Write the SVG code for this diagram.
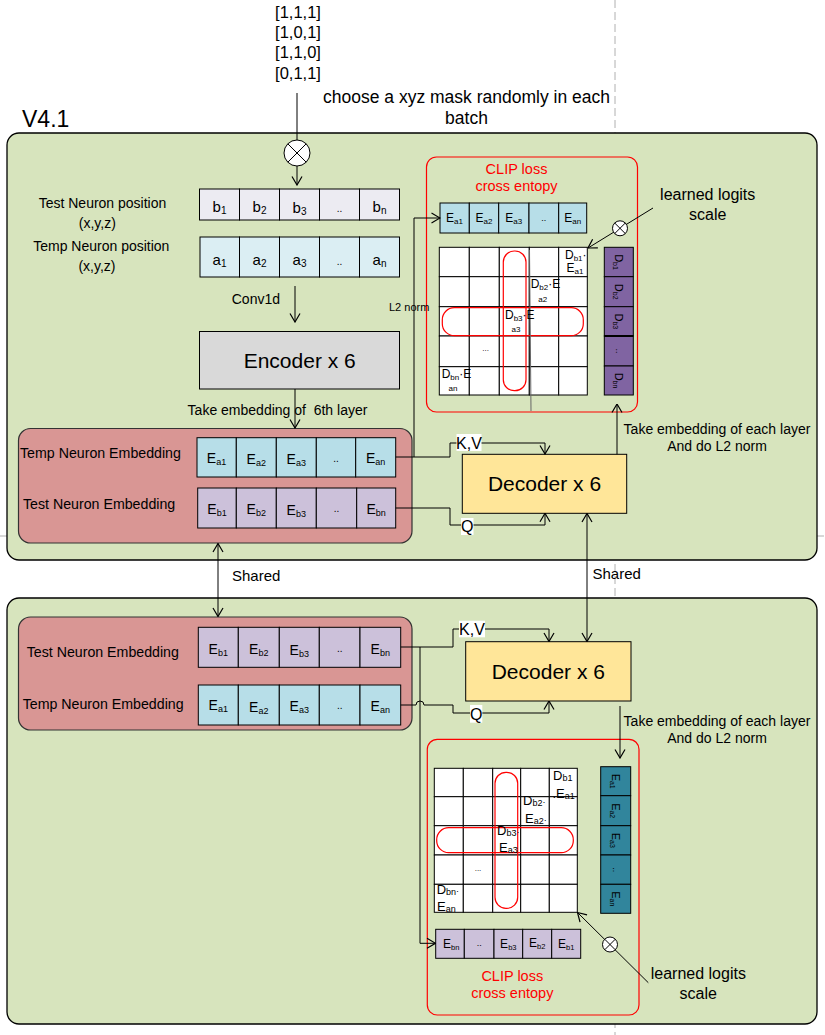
<svg xmlns="http://www.w3.org/2000/svg" width="825" height="1035" viewBox="0 0 825 1035">
<style>
text{font-family:"Liberation Sans",Arial,sans-serif;fill:#000}
.c{text-anchor:middle}
.panel{fill:#d7e4bd;stroke:#000;stroke-width:1.3}
.emb{fill:#d99694;stroke:#333;stroke-width:1.2}
.cell{stroke:#000;stroke-width:1}
.ea{fill:#b7dee8}
.eb{fill:#ccc1da}
.pa{fill:#dbeef3}
.pb{fill:#ecebf2}
.dp{fill:#8064a2}
.tl{fill:#31859c}
.wc{fill:#fff}
.red{fill:none;stroke:#f00;stroke-width:1.2}
.ln{fill:none;stroke:#000;stroke-width:1}
.ar{marker-end:url(#ah)}
.ar2{marker-start:url(#ah);marker-end:url(#ah)}
.rt{fill:#f00}
.dash{stroke:#b0b0b0;stroke-width:1;stroke-dasharray:8 4}
</style>
<defs>
<marker id="ah" viewBox="0 0 10 12" refX="9.5" refY="6" markerWidth="10" markerHeight="12" markerUnits="userSpaceOnUse" orient="auto-start-reverse">
<path d="M1,1 L9.5,6 L1,11" fill="none" stroke="#000" stroke-width="1.2"/>
</marker>
</defs>

<g id="guides">
<line class="dash" x1="615" y1="0" x2="615" y2="1035"/>
<line class="dash" x1="0" y1="536" x2="825" y2="536"/>
</g>

<g id="panel-top"><rect class="panel" x="7" y="133" width="810" height="427" rx="12"/></g>
<g id="panel-bottom"><rect class="panel" x="7" y="598" width="810" height="426" rx="12"/></g>

<g id="title"><text x="22" y="127" font-size="23">V4.1</text></g>

<g id="mask-list">
<text class="c" x="298" y="18" font-size="16.5">[1,1,1]</text>
<text class="c" x="298" y="38" font-size="16.5">[1,0,1]</text>
<text class="c" x="298" y="58" font-size="16.5">[1,1,0]</text>
<text class="c" x="298" y="79" font-size="16.5">[0,1,1]</text>
</g>
<g id="mask-note">
<text class="c" x="466.5" y="103" font-size="17.5">choose a xyz mask randomly in each</text>
<text class="c" x="466.5" y="124" font-size="17.5">batch</text>
</g>

<g id="mask-mult">
<circle cx="297" cy="153" r="13" fill="#fff" stroke="#000" stroke-width="1"/>
<line class="ln" x1="287.8" y1="143.8" x2="306.2" y2="162.2"/>
<line class="ln" x1="306.2" y1="143.8" x2="287.8" y2="162.2"/>
</g>

<g id="pos-labels">
<text class="c" x="102.5" y="207.5" font-size="14">Test Neuron position</text>
<text class="c" x="97.3" y="227.5" font-size="14">(x,y,z)</text>
<text class="c" x="101.3" y="251" font-size="14">Temp Neuron position</text>
<text class="c" x="97" y="271" font-size="14">(x,y,z)</text>
</g>

<g id="pos-b-row">
<rect class="cell pb" x="199.5" y="189" width="40" height="31"/>
<rect class="cell pb" x="239.5" y="189" width="40" height="31"/>
<rect class="cell pb" x="279.5" y="189" width="40" height="31"/>
<rect class="cell pb" x="319.5" y="189" width="40" height="31"/>
<rect class="cell pb" x="359.5" y="189" width="40" height="31"/>
<text class="c" x="219.5" y="212" font-size="15">b<tspan font-size="10" dy="2">1</tspan></text>
<text class="c" x="259.5" y="212" font-size="15">b<tspan font-size="10" dy="2">2</tspan></text>
<text class="c" x="299.5" y="213" font-size="15">b<tspan font-size="10" dy="2">3</tspan></text>
<text class="c" x="339.5" y="212" font-size="10" fill="#444">..</text>
<text class="c" x="379.5" y="212" font-size="15">b<tspan font-size="10" dy="2">n</tspan></text>
</g>

<g id="pos-a-row">
<rect class="cell pa" x="200" y="237" width="39.5" height="40"/>
<rect class="cell pa" x="239.5" y="237" width="40" height="40"/>
<rect class="cell pa" x="279.5" y="237" width="40" height="40"/>
<rect class="cell pa" x="319.5" y="237" width="40" height="40"/>
<rect class="cell pa" x="359.5" y="237" width="40" height="40"/>
<text class="c" x="219.5" y="265" font-size="15">a<tspan font-size="10" dy="2">1</tspan></text>
<text class="c" x="259.5" y="265" font-size="15">a<tspan font-size="10" dy="2">2</tspan></text>
<text class="c" x="299.5" y="265" font-size="15">a<tspan font-size="10" dy="2">3</tspan></text>
<text class="c" x="339.5" y="265" font-size="10" fill="#444">..</text>
<text class="c" x="379.5" y="265" font-size="15">a<tspan font-size="10" dy="2">n</tspan></text>
</g>

<g id="conv-label"><text x="280" y="304" font-size="14" text-anchor="end">Conv1d</text></g>

<g id="encoder">
<rect x="199.5" y="331.5" width="200" height="57.5" fill="#d9d9d9" stroke="#000" stroke-width="1"/>
<text class="c" x="299.7" y="367.5" font-size="21">Encoder x 6</text>
</g>

<g id="take6"><text class="c" x="277.5" y="415" font-size="14">Take embedding of&#160; 6th layer</text></g>

<g id="emb-top">
<rect class="emb" x="18.5" y="428.5" width="393.5" height="114.5" rx="12"/>
<text x="20" y="458" font-size="14.2">Temp Neuron Embedding</text>
<text x="23" y="509" font-size="14.2">Test Neuron Embedding</text>
<rect class="cell ea" x="197" y="437.7" width="39.3" height="39.3"/>
<rect class="cell ea" x="236.3" y="437.7" width="40" height="39.3"/>
<rect class="cell ea" x="276.3" y="437.7" width="40" height="39.3"/>
<rect class="cell ea" x="316.3" y="437.7" width="39.4" height="39.3"/>
<rect class="cell ea" x="355.7" y="437.7" width="40" height="39.3"/>
<text class="c" x="216.5" y="463" font-size="14">E<tspan font-size="9" dy="2">a1</tspan></text>
<text class="c" x="256.3" y="464" font-size="14">E<tspan font-size="9" dy="2">a2</tspan></text>
<text class="c" x="296.3" y="464" font-size="14">E<tspan font-size="9" dy="2">a3</tspan></text>
<text class="c" x="336" y="462" font-size="10" fill="#444">..</text>
<text class="c" x="375.7" y="463" font-size="14">E<tspan font-size="9" dy="2">an</tspan></text>
<rect class="cell eb" x="197.7" y="488" width="38.6" height="40"/>
<rect class="cell eb" x="236.3" y="488" width="40" height="40"/>
<rect class="cell eb" x="276.3" y="488" width="40" height="40"/>
<rect class="cell eb" x="316.3" y="488" width="40.4" height="40"/>
<rect class="cell eb" x="356.7" y="488" width="39" height="40"/>
<text class="c" x="217" y="513.5" font-size="14">E<tspan font-size="9" dy="2">b1</tspan></text>
<text class="c" x="256.3" y="513.5" font-size="14">E<tspan font-size="9" dy="2">b2</tspan></text>
<text class="c" x="296.3" y="515" font-size="14">E<tspan font-size="9" dy="2">b3</tspan></text>
<text class="c" x="336.5" y="512" font-size="10" fill="#444">..</text>
<text class="c" x="376.2" y="514" font-size="14">E<tspan font-size="9" dy="2">bn</tspan></text>
</g>

<g id="decoder-top">
<rect x="462.3" y="454.3" width="164.4" height="59" fill="#ffe699" stroke="#000" stroke-width="1"/>
<text class="c" x="544.5" y="491" font-size="21">Decoder x 6</text>
</g>

<g id="note-top">
<text class="c" x="717" y="434" font-size="14">Take embedding of each layer</text>
<text class="c" x="717" y="451" font-size="14">And do L2 norm</text>
</g>

<g id="clip-top">
<rect class="red" x="426.5" y="157" width="211" height="255" rx="10"/>
<text class="c rt" x="516.5" y="174" font-size="14.5">CLIP loss</text>
<text class="c rt" x="516.5" y="191" font-size="14.5">cross entopy</text>
<rect class="cell ea" x="440" y="203" width="29.3" height="30"/>
<rect class="cell ea" x="469.3" y="203" width="29.4" height="30"/>
<rect class="cell ea" x="498.7" y="203" width="30.3" height="30"/>
<rect class="cell ea" x="529" y="203" width="29.7" height="30"/>
<rect class="cell ea" x="558.7" y="203" width="28" height="30"/>
<text class="c" x="454.5" y="222" font-size="12">E<tspan font-size="8" dy="2">a1</tspan></text>
<text class="c" x="484" y="222" font-size="12">E<tspan font-size="8" dy="2">a2</tspan></text>
<text class="c" x="513.8" y="222" font-size="12">E<tspan font-size="8" dy="2">a3</tspan></text>
<text class="c" x="543.8" y="221" font-size="9" fill="#444">..</text>
<text class="c" x="572.7" y="222" font-size="12">E<tspan font-size="8" dy="2">an</tspan></text>
<g class="cell wc">
<rect x="439.3" y="247.3" width="30" height="29.4"/>
<rect x="469.3" y="247.3" width="30" height="29.4"/>
<rect x="499.3" y="247.3" width="30" height="29.4"/>
<rect x="529.3" y="247.3" width="29.4" height="29.4"/>
<rect x="558.7" y="247.3" width="28.6" height="29.4"/>
<rect x="439.3" y="276.7" width="30" height="30"/>
<rect x="469.3" y="276.7" width="30" height="30"/>
<rect x="499.3" y="276.7" width="30" height="30"/>
<rect x="529.3" y="276.7" width="29.4" height="30"/>
<rect x="558.7" y="276.7" width="28.6" height="30"/>
<rect x="439.3" y="306.7" width="30" height="29.3"/>
<rect x="469.3" y="306.7" width="30" height="29.3"/>
<rect x="499.3" y="306.7" width="30" height="29.3"/>
<rect x="529.3" y="306.7" width="29.4" height="29.3"/>
<rect x="558.7" y="306.7" width="28.6" height="29.3"/>
<rect x="439.3" y="336" width="30" height="30.7"/>
<rect x="469.3" y="336" width="30" height="30.7"/>
<rect x="499.3" y="336" width="30" height="30.7"/>
<rect x="529.3" y="336" width="29.4" height="30.7"/>
<rect x="558.7" y="336" width="28.6" height="30.7"/>
<rect x="439.3" y="366.7" width="30" height="28.3"/>
<rect x="469.3" y="366.7" width="30" height="28.3"/>
<rect x="499.3" y="366.7" width="30" height="28.3"/>
<rect x="529.3" y="366.7" width="29.4" height="28.3"/>
<rect x="558.7" y="366.7" width="28.6" height="28.3"/>
</g>
<rect class="red" x="503.3" y="251" width="22.7" height="139.7" rx="11"/>
<rect class="red" x="442.3" y="307.7" width="141" height="28" rx="12"/>
<line x1="529.5" y1="250" x2="531" y2="411" stroke="#666" stroke-width="1"/>
<text x="565" y="259" font-size="12">D<tspan font-size="8" dy="2">b1</tspan><tspan dy="-2">·</tspan></text>
<text x="566.5" y="272" font-size="12">E<tspan font-size="8" dy="2">a1</tspan></text>
<text x="530.7" y="288" font-size="12">D<tspan font-size="8" dy="2">b2</tspan><tspan dy="-2">·E</tspan></text>
<text class="c" x="542.7" y="302" font-size="8">a2</text>
<text x="505" y="318.5" font-size="12">D<tspan font-size="8" dy="2">b3</tspan><tspan dy="-2">·E</tspan></text>
<text class="c" x="516" y="332" font-size="8">a3</text>
<text class="c" x="485.7" y="351" font-size="8" fill="#555">...</text>
<text x="441.7" y="377.5" font-size="12">D<tspan font-size="8" dy="2">bn</tspan><tspan dy="-2">·E</tspan></text>
<text class="c" x="453" y="391" font-size="8">an</text>
<g class="cell dp">
<rect x="604.3" y="247.3" width="29" height="29.4"/>
<rect x="604.3" y="276.7" width="29" height="30"/>
<rect x="604.3" y="306.7" width="29" height="29.3"/>
<rect x="604.3" y="336" width="29" height="30"/>
<rect x="604.3" y="366" width="29" height="29"/>
</g>
<line x1="604.3" y1="336" x2="633.3" y2="336" stroke="#000" stroke-width="2"/>
<g fill="#222">
<text class="c" transform="translate(618.8,262) rotate(90)" dy="4" font-size="11">D<tspan font-size="7" dy="2">b1</tspan></text>
<text class="c" transform="translate(618.8,291.7) rotate(90)" dy="4" font-size="11">D<tspan font-size="7" dy="2">b2</tspan></text>
<text class="c" transform="translate(618.8,321.3) rotate(90)" dy="4" font-size="11">D<tspan font-size="7" dy="2">b3</tspan></text>
<text class="c" transform="translate(618.8,351) rotate(90)" dy="3" font-size="9">..</text>
<text class="c" transform="translate(618.8,380.5) rotate(90)" dy="4" font-size="11">D<tspan font-size="7" dy="2">bn</tspan></text>
</g>
</g>

<g id="logit-scale-top">
<text class="c" x="707.7" y="199.5" font-size="16">learned logits</text>
<text class="c" x="707.7" y="219.5" font-size="16">scale</text>
</g>

<g id="shared-labels">
<text x="232" y="581" font-size="15">Shared</text>
<text x="592.5" y="579" font-size="15">Shared</text>
</g>

<g id="emb-bottom">
<rect class="emb" x="18.5" y="617" width="393.5" height="113" rx="12"/>
<text x="26.7" y="657" font-size="14.2">Test Neuron Embedding</text>
<text x="22.7" y="709" font-size="14.2">Temp Neuron Embedding</text>
<rect class="cell eb" x="198.3" y="627.3" width="40" height="40"/>
<rect class="cell eb" x="238.3" y="627.3" width="41" height="40"/>
<rect class="cell eb" x="279.3" y="627.3" width="40" height="40"/>
<rect class="cell eb" x="319.3" y="627.3" width="40.7" height="40"/>
<rect class="cell eb" x="360" y="627.3" width="40.7" height="40"/>
<text class="c" x="218.3" y="653.5" font-size="14">E<tspan font-size="9" dy="2">b1</tspan></text>
<text class="c" x="258.8" y="653.5" font-size="14">E<tspan font-size="9" dy="2">b2</tspan></text>
<text class="c" x="299.3" y="654.5" font-size="14">E<tspan font-size="9" dy="2">b3</tspan></text>
<text class="c" x="339.7" y="652" font-size="10" fill="#444">..</text>
<text class="c" x="380.3" y="653.5" font-size="14">E<tspan font-size="9" dy="2">bn</tspan></text>
<rect class="cell ea" x="198.3" y="685" width="40" height="40"/>
<rect class="cell ea" x="238.3" y="685" width="41" height="40"/>
<rect class="cell ea" x="279.3" y="685" width="40" height="40"/>
<rect class="cell ea" x="319.3" y="685" width="40.7" height="40"/>
<rect class="cell ea" x="360" y="685" width="40.7" height="40"/>
<text class="c" x="218.3" y="710" font-size="14">E<tspan font-size="9" dy="2">a1</tspan></text>
<text class="c" x="258.8" y="711.5" font-size="14">E<tspan font-size="9" dy="2">a2</tspan></text>
<text class="c" x="299.3" y="711" font-size="14">E<tspan font-size="9" dy="2">a3</tspan></text>
<text class="c" x="339.7" y="709" font-size="10" fill="#444">..</text>
<text class="c" x="380.3" y="711" font-size="14">E<tspan font-size="9" dy="2">an</tspan></text>
</g>

<g id="decoder-bottom">
<rect x="465.7" y="641.7" width="165.3" height="59.3" fill="#ffe699" stroke="#000" stroke-width="1"/>
<text class="c" x="548.3" y="678.5" font-size="21">Decoder x 6</text>
</g>

<g id="note-bottom">
<text class="c" x="717" y="726" font-size="14">Take embedding of each layer</text>
<text class="c" x="717" y="742.5" font-size="14">And do L2 norm</text>
</g>

<g id="clip-bottom">
<rect class="red" x="427.3" y="739.3" width="211.7" height="275.7" rx="10"/>
<g class="cell wc">
<rect x="434.3" y="768.3" width="29" height="28.4"/>
<rect x="463.3" y="768.3" width="29.4" height="28.4"/>
<rect x="492.7" y="768.3" width="28" height="28.4"/>
<rect x="520.7" y="768.3" width="28.6" height="28.4"/>
<rect x="549.3" y="768.3" width="28" height="28.4"/>
<rect x="434.3" y="796.7" width="29" height="29"/>
<rect x="463.3" y="796.7" width="29.4" height="29"/>
<rect x="492.7" y="796.7" width="28" height="29"/>
<rect x="520.7" y="796.7" width="28.6" height="29"/>
<rect x="549.3" y="796.7" width="28" height="29"/>
<rect x="434.3" y="825.7" width="29" height="29.3"/>
<rect x="463.3" y="825.7" width="29.4" height="29.3"/>
<rect x="492.7" y="825.7" width="28" height="29.3"/>
<rect x="520.7" y="825.7" width="28.6" height="29.3"/>
<rect x="549.3" y="825.7" width="28" height="29.3"/>
<rect x="434.3" y="855" width="29" height="29.3"/>
<rect x="463.3" y="855" width="29.4" height="29.3"/>
<rect x="492.7" y="855" width="28" height="29.3"/>
<rect x="520.7" y="855" width="28.6" height="29.3"/>
<rect x="549.3" y="855" width="28" height="29.3"/>
<rect x="434.3" y="884.3" width="29" height="28"/>
<rect x="463.3" y="884.3" width="29.4" height="28"/>
<rect x="492.7" y="884.3" width="28" height="28"/>
<rect x="520.7" y="884.3" width="28.6" height="28"/>
<rect x="549.3" y="884.3" width="28" height="28"/>
</g>
<rect class="red" x="495" y="772.3" width="22.7" height="136" rx="11"/>
<rect class="red" x="436.7" y="827.7" width="136.6" height="25" rx="12"/>
<text x="553" y="779.5" font-size="13">D<tspan font-size="9" dy="1">b1</tspan></text>
<text x="552.5" y="797.5" font-size="13">.E<tspan font-size="9" dy="1">a1</tspan></text>
<text x="523" y="805" font-size="13">D<tspan font-size="9" dy="1">b2</tspan><tspan font-size="9" dy="-1">·</tspan></text>
<text x="525" y="822.5" font-size="13">E<tspan font-size="9" dy="1">a2</tspan><tspan font-size="9" dy="-1">·</tspan></text>
<text x="497" y="835" font-size="13">D<tspan font-size="9" dy="1">b3</tspan><tspan font-size="9" dy="-1">·</tspan></text>
<text x="499" y="851.5" font-size="13">E<tspan font-size="9" dy="1">a3</tspan></text>
<text class="c" x="478" y="871" font-size="8" fill="#555">...</text>
<text x="436.7" y="893.5" font-size="13">D<tspan font-size="9" dy="1">bn</tspan><tspan font-size="9" dy="-1">·</tspan></text>
<text x="437" y="911" font-size="13">E<tspan font-size="9" dy="1">an</tspan></text>
<g class="cell tl">
<rect x="600.7" y="766.7" width="30" height="29"/>
<rect x="600.7" y="795.7" width="30" height="30"/>
<rect x="600.7" y="825.7" width="30" height="29.3"/>
<rect x="600.7" y="855" width="30" height="29.3"/>
<rect x="600.7" y="884.3" width="30" height="29"/>
</g>
<g fill="#1a1a1a">
<text class="c" transform="translate(615.7,781.2) rotate(90)" dy="4" font-size="11">E<tspan font-size="7" dy="2">a1</tspan></text>
<text class="c" transform="translate(615.7,810.7) rotate(90)" dy="4" font-size="11">E<tspan font-size="7" dy="2">a2</tspan></text>
<text class="c" transform="translate(615.7,840.3) rotate(90)" dy="4" font-size="11">E<tspan font-size="7" dy="2">a3</tspan></text>
<text class="c" transform="translate(615.7,869.7) rotate(90)" dy="3" font-size="9">..</text>
<text class="c" transform="translate(615.7,898.8) rotate(90)" dy="4" font-size="11">E<tspan font-size="7" dy="2">an</tspan></text>
</g>
<rect class="cell eb" x="435.7" y="929.3" width="28.6" height="29"/>
<rect class="cell eb" x="464.3" y="929.3" width="29.7" height="29"/>
<rect class="cell eb" x="494" y="929.3" width="28.7" height="29"/>
<rect class="cell eb" x="522.7" y="929.3" width="29" height="29"/>
<rect class="cell eb" x="551.7" y="929.3" width="29" height="29"/>
<text x="443" y="947.5" font-size="12">E<tspan font-size="7.5" dy="2">bn</tspan></text>
<text class="c" x="479.2" y="946" font-size="9" fill="#444">..</text>
<text class="c" x="508.3" y="947.5" font-size="12">E<tspan font-size="7.5" dy="2">b3</tspan></text>
<text class="c" x="537.2" y="946.5" font-size="12">E<tspan font-size="7.5" dy="2">b2</tspan></text>
<text class="c" x="566.2" y="947.5" font-size="12">E<tspan font-size="7.5" dy="2">b1</tspan></text>
<text class="c rt" x="512.3" y="981" font-size="14.5">CLIP loss</text>
<text class="c rt" x="512.3" y="998" font-size="14.5">cross entopy</text>
</g>

<g id="logit-scale-bottom">
<text class="c" x="698.3" y="979" font-size="16">learned logits</text>
<text class="c" x="698.3" y="998.5" font-size="16">scale</text>
</g>

<g id="connectors">
<line class="ln" x1="297" y1="93" x2="297" y2="140"/>
<line class="ln ar" x1="297" y1="166" x2="297" y2="185"/>
<line class="ln ar" x1="295" y1="286" x2="295" y2="322"/>
<line class="ln ar" x1="295" y1="389" x2="295" y2="428"/>
<path class="ln ar" d="M395.7,457 H414 V218 H440"/>
<path class="ln ar" d="M414,457 H450 V443 H545 V454"/>
<path class="ln ar" d="M395.7,508 H450 V525 H545 V513.3"/>
<line class="ln ar" x1="617" y1="454.3" x2="617" y2="404"/>
<line class="ln ar2" x1="218" y1="543.5" x2="218" y2="616.5"/>
<line class="ln ar2" x1="587" y1="513.5" x2="587" y2="641.5"/>
<line class="ln ar" x1="653" y1="208" x2="588" y2="248"/>
<g>
<circle cx="620" cy="228.3" r="7.5" fill="#fff" stroke="#000" stroke-width="1"/>
<line class="ln" x1="614.7" y1="223" x2="625.3" y2="233.6"/>
<line class="ln" x1="625.3" y1="223" x2="614.7" y2="233.6"/>
</g>
<path class="ln ar" d="M400.7,647 H453 V629 H549 V641.5"/>
<path class="ln ar" d="M420,647 V943.3 H435.5"/>
<path class="ln ar" d="M400.7,705 H416 A4,4 0 0 1 424,705 H453 V713 H549 V701"/>
<line class="ln ar" x1="620" y1="706" x2="620" y2="758"/>
<line class="ln ar" x1="648.3" y1="982.7" x2="577.5" y2="912.5"/>
<g>
<circle cx="610" cy="944.5" r="7.5" fill="#fff" stroke="#000" stroke-width="1"/>
<line class="ln" x1="604.7" y1="939.2" x2="615.3" y2="949.8"/>
<line class="ln" x1="615.3" y1="939.2" x2="604.7" y2="949.8"/>
</g>
</g>

<g id="connector-labels">
<text x="389" y="311" font-size="11">L2 norm</text>
<rect x="456.5" y="434" width="25" height="17" fill="#fff"/>
<text class="c" x="469" y="449" font-size="16">K,V</text>
<rect x="461" y="518" width="12.5" height="17" fill="#fff"/>
<text class="c" x="467.3" y="532" font-size="16">Q</text>
<rect x="459" y="620.7" width="26" height="16.6" fill="#fff"/>
<text class="c" x="472" y="635" font-size="16">K,V</text>
<rect x="470" y="705" width="12.3" height="17.7" fill="#fff"/>
<text class="c" x="476.2" y="720" font-size="16">Q</text>
</g>
</svg>
